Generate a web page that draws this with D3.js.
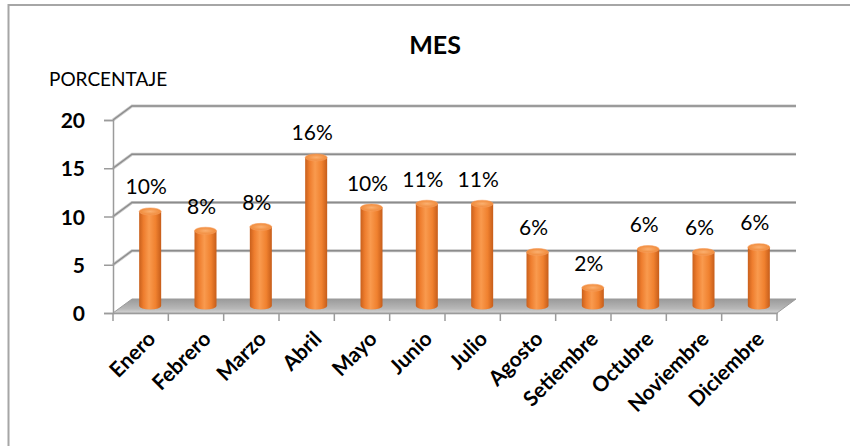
<!DOCTYPE html>
<html>
<head>
<meta charset="utf-8">
<script src="https://cdn.jsdelivr.net/npm/d3@7"></script>
<style>
  html, body { margin: 0; padding: 0; background: #fff; }
  svg { display: block; font-family: Lato, "Noto Sans", sans-serif; }
</style>
</head>
<body>
<svg id="chart" width="850" height="446"></svg>
<script>
const months = ["Enero","Febrero","Marzo","Abril","Mayo","Junio","Julio","Agosto","Setiembre","Octubre","Noviembre","Diciembre"];
const values = [9.8, 7.8, 8.2, 15.4, 10.2, 10.6, 10.6, 5.6, 1.9, 5.9, 5.6, 6.1];
const valueLabels = ["10%","8%","8%","16%","10%","11%","11%","6%","2%","6%","6%","6%"];
const yTicks = [0, 5, 10, 15, 20];
const title = "MES";
const yTitle = "PORCENTAJE";

const svg = d3.select("#chart");
const defs = svg.append("defs");

// depth offset for the pseudo-3D
const DX = 19, DY = -14;

const x = d3.scaleBand().domain(months).range([113, 777]).padding(0);
const y = d3.scaleLinear().domain([0, 20]).range([313, 120]);

// outer frame
svg.append("rect").attr("x", 8.5).attr("y", 5).attr("width", 860).attr("height", 460)
  .attr("fill", "none").attr("stroke", "#a6a6a6").attr("stroke-width", 2);

// titles
svg.append("text").attr("x", 435).attr("y", 54).attr("text-anchor", "middle")
  .attr("font-size", 25).attr("font-weight", "bold").attr("fill", "#000").text(title);
svg.append("text").attr("x", 49).attr("y", 86)
  .attr("font-size", 19).attr("fill", "#000").text(yTitle);

// gradients
const floorGrad = defs.append("linearGradient").attr("id", "floorGrad").attr("x1", 0).attr("y1", 0).attr("x2", 0).attr("y2", 1);
floorGrad.append("stop").attr("offset", "0%").attr("stop-color", "#9a9a9a");
floorGrad.append("stop").attr("offset", "70%").attr("stop-color", "#b8b8b8");
floorGrad.append("stop").attr("offset", "100%").attr("stop-color", "#d6d6d6");

const cylGrad = defs.append("linearGradient").attr("id", "cylGrad").attr("x1", 0).attr("y1", 0).attr("x2", 1).attr("y2", 0);
cylGrad.append("stop").attr("offset", "0%").attr("stop-color", "#c9601c");
cylGrad.append("stop").attr("offset", "20%").attr("stop-color", "#ee7d2e");
cylGrad.append("stop").attr("offset", "45%").attr("stop-color", "#f99a4e");
cylGrad.append("stop").attr("offset", "75%").attr("stop-color", "#f0812f");
cylGrad.append("stop").attr("offset", "100%").attr("stop-color", "#c65d1a");

const topGrad = defs.append("radialGradient").attr("id", "topGrad");
topGrad.append("stop").attr("offset", "0%").attr("stop-color", "#fbb070");
topGrad.append("stop").attr("offset", "100%").attr("stop-color", "#f08a3a");

const x0 = x.range()[0], x1 = x.range()[1];

// back wall gridlines and side-wall connectors
const grid = svg.append("g");
yTicks.filter(t => t > 0).forEach(t => {
  const yf = y(t);
  grid.append("path")
    .attr("d", `M${x0},${yf} L${x0 + DX},${yf + DY} L${x1 + DX},${yf + DY}`)
    .attr("fill", "none").attr("stroke", "#c8c8c8").attr("stroke-width", 3);
  grid.append("path")
    .attr("d", `M${x0},${yf} L${x0 + DX},${yf + DY} L${x1 + DX},${yf + DY}`)
    .attr("fill", "none").attr("stroke", "#8c8c8c").attr("stroke-width", 1.3);
});

// floor
const yb = y(0);
svg.append("path")
  .attr("d", `M${x0},${yb} L${x0 + DX},${yb + DY} L${x1 + DX},${yb + DY} L${x1},${yb} Z`)
  .attr("fill", "url(#floorGrad)").attr("stroke", "#9b9b9b").attr("stroke-width", 1);
svg.append("line").attr("x1", x0).attr("y1", yb + 0.5).attr("x2", x1).attr("y2", yb + 0.5)
  .attr("stroke", "#e3e3e3").attr("stroke-width", 1.5);

// front value axis
const yAxisG = svg.append("g").attr("transform", `translate(${x0},0)`)
  .call(d3.axisLeft(y).tickValues(yTicks).tickSize(9).tickPadding(19).tickFormat(d3.format("d")));
yAxisG.select(".domain").attr("stroke", "#9b9b9b").attr("stroke-width", 1.5);
yAxisG.selectAll(".tick line").attr("stroke", "#9b9b9b").attr("stroke-width", 1.5);
yAxisG.selectAll(".tick text").attr("font-size", 21).attr("font-weight", "bold")
  .attr("font-family", "Lato, sans-serif").attr("fill", "#000").attr("dy", "0.36em");

// front category axis
const xAxisG = svg.append("g").attr("transform", `translate(0,${yb})`)
  .call(d3.axisBottom(x).tickSize(0).tickPadding(0));
xAxisG.select(".domain").attr("stroke", "#9b9b9b").attr("stroke-width", 1.5);
xAxisG.selectAll(".tick text")
  .attr("font-size", 21).attr("font-weight", "bold").attr("font-family", "Lato, sans-serif")
  .attr("fill", "#000").attr("text-anchor", "end")
  .attr("transform", "translate(11,22) rotate(-45)").attr("dy", "0.35em");
// category boundary ticks
const bounds = months.map(m => x(m)).concat([x1]);
xAxisG.selectAll(".btick").data(bounds).enter().append("line")
  .attr("x1", d => d).attr("x2", d => d).attr("y1", 0).attr("y2", 8)
  .attr("stroke", "#9b9b9b").attr("stroke-width", 1.5);

// cylinders at mid depth
const RW = 11, RY = 3.5;
const cyl = svg.append("g").attr("transform", `translate(${DX / 2},${DY / 2})`);
months.forEach((m, i) => {
  const cx = x(m) + x.bandwidth() / 2;
  const yt = y(values[i]);
  const ybot = y(0);
  const g = cyl.append("g");
  g.append("path")
    .attr("d", `M${cx - RW},${yt} L${cx - RW},${ybot} A${RW},${RY} 0 0 0 ${cx + RW},${ybot} L${cx + RW},${yt} Z`)
    .attr("fill", "url(#cylGrad)");
  g.append("ellipse").attr("cx", cx).attr("cy", yt).attr("rx", RW).attr("ry", RY)
    .attr("fill", "url(#topGrad)").attr("stroke", "#f6a060").attr("stroke-width", 0.6);
  g.append("text").attr("x", cx - 4).attr("y", yt - 17).attr("text-anchor", "middle")
    .attr("font-size", 21).attr("fill", "#000").text(valueLabels[i]);
});
</script>
</body>
</html>
